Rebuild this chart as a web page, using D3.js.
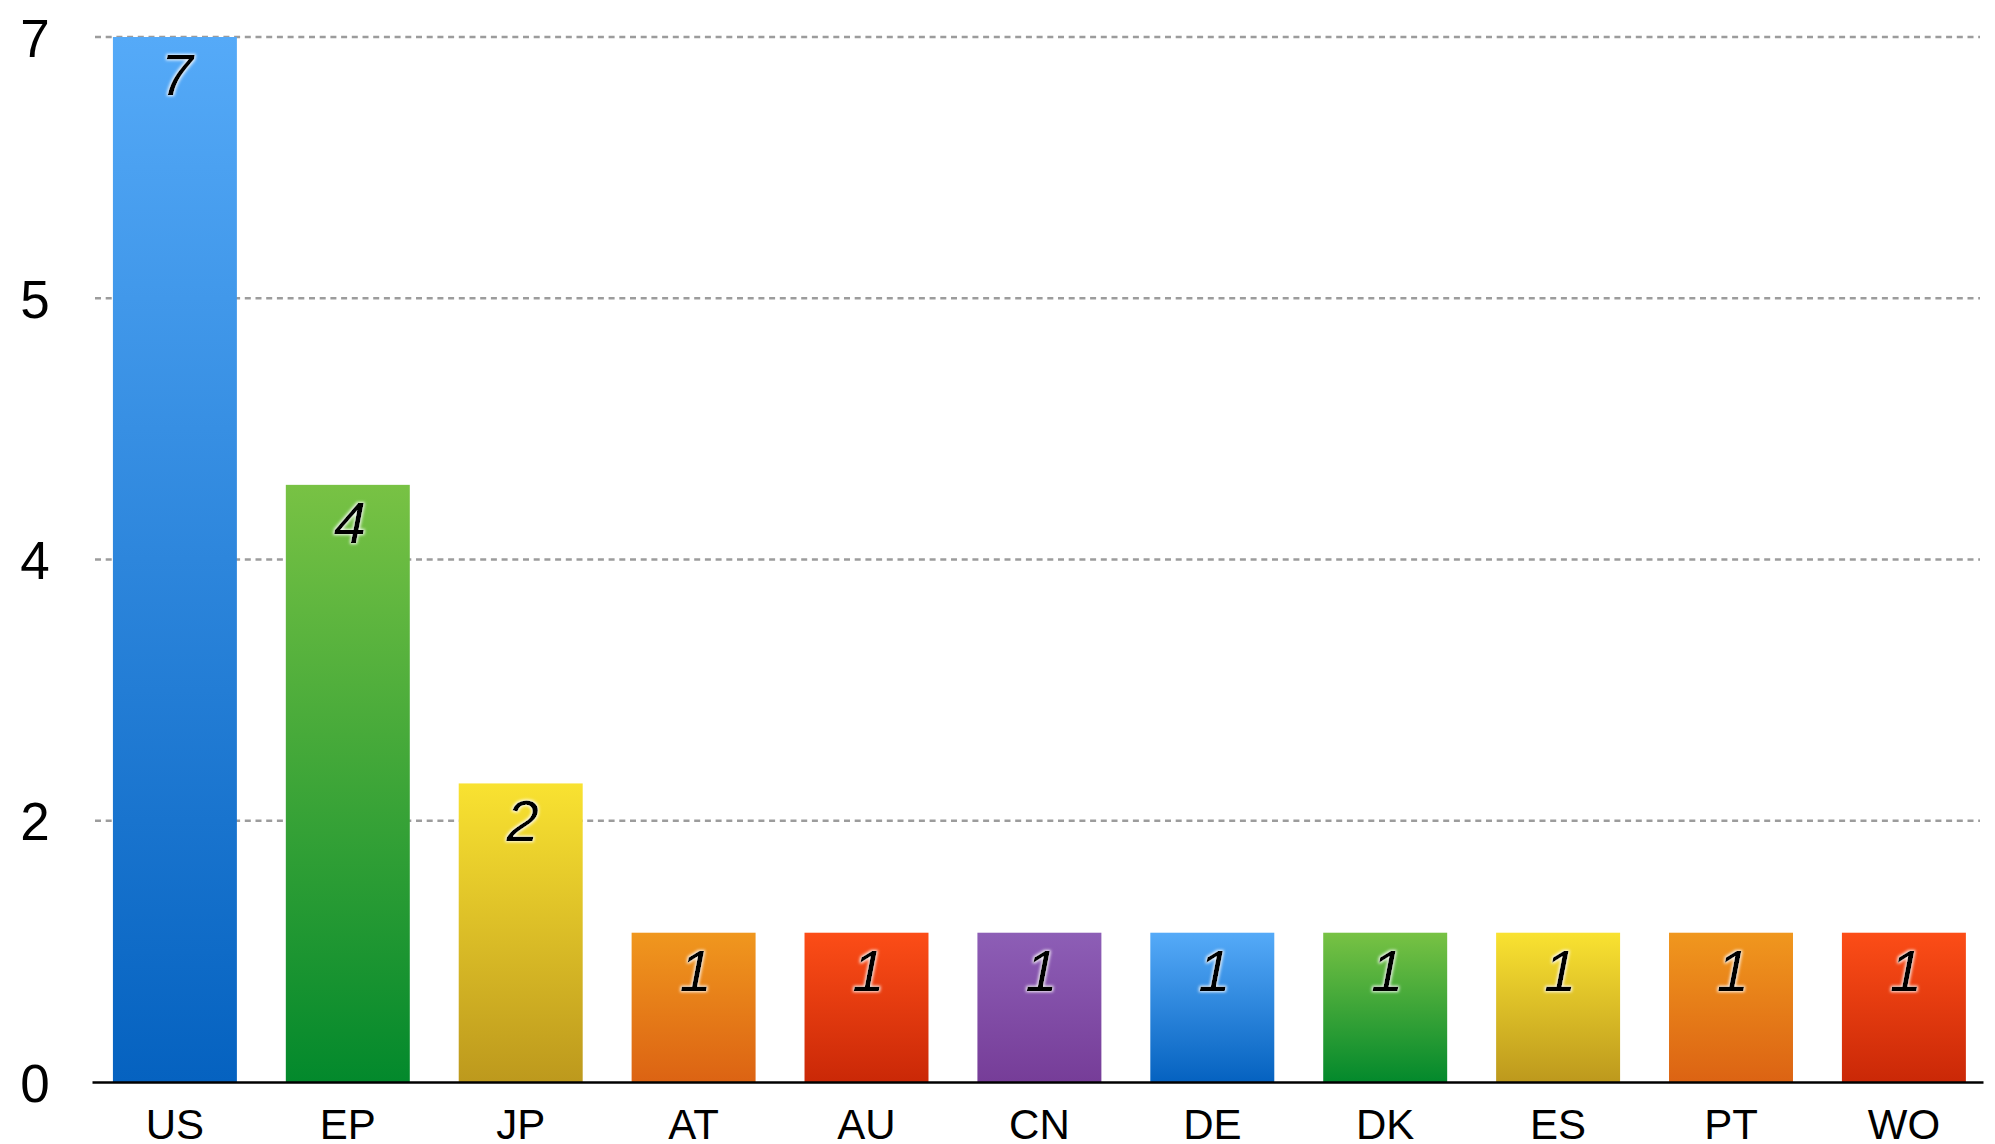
<!DOCTYPE html>
<html>
<head>
<meta charset="utf-8">
<script src="https://cdn.jsdelivr.net/npm/d3@7"></script>
<style>
  html, body { margin: 0; padding: 0; background: #fff; }
  svg { display: block; font-family: "Liberation Sans", Arial, sans-serif; }
</style>
</head>
<body>
<script>
// chart data
const offices = ["US", "EP", "JP", "AT", "AU", "CN", "DE", "DK", "ES", "PT", "WO"];
const counts = [7, 4, 2, 1, 1, 1, 1, 1, 1, 1, 1];
const yTicks = [0, 1.75, 3.5, 5.25, 7];
const yTickLabels = ["0", "2", "4", "5", "7"];
// top / bottom of each bar gradient, cycling
const topColors = ["#55aaf8", "#78c244", "#f9e231", "#f0971e", "#fc4d17", "#8d5eb6"];
const bottomColors = ["#0562c0", "#03892c", "#bd991d", "#dc6313", "#ca2807", "#763d98"];

const w = 1995, h = 1144;

let svg = d3.select("body")
  .append("svg")
  .attr("width", w)
  .attr("height", h)
  .attr("viewBox", [0, 0, w, h]);

let defs = svg.append("defs");
topColors.forEach((c, i) => {
  let g = defs.append("linearGradient")
    .attr("id", "grad" + i)
    .attr("x1", 0).attr("y1", 0)
    .attr("x2", 0).attr("y2", 1);
  g.append("stop").attr("offset", "0%").attr("stop-color", c);
  g.append("stop").attr("offset", "100%").attr("stop-color", bottomColors[i]);
});

// soft white halo behind the value labels
let glow = defs.append("filter")
  .attr("id", "glow")
  .attr("x", "-30%").attr("y", "-30%")
  .attr("width", "160%").attr("height", "160%");
glow.append("feMorphology")
  .attr("in", "SourceAlpha").attr("operator", "dilate").attr("radius", 1)
  .attr("result", "fat");
glow.append("feGaussianBlur")
  .attr("in", "fat").attr("stdDeviation", 1.6).attr("result", "blur");
glow.append("feFlood").attr("flood-color", "#fff").attr("flood-opacity", 0.9);
glow.append("feComposite").attr("in2", "blur").attr("operator", "in").attr("result", "halo");
let merge = glow.append("feMerge");
merge.append("feMergeNode").attr("in", "halo");
merge.append("feMergeNode").attr("in", "SourceGraphic");

let x = d3.scaleBand()
  .domain(offices)
  .range([92, 1983])
  .paddingInner(0.283)
  .paddingOuter(0.11)
  .align(0.55);

let y = d3.scaleLinear()
  .domain([0, 7])
  .range([1082, 37]);

// dashed grid
svg.append("g")
  .selectAll("line")
  .data(yTicks.filter(d => d > 0))
  .join("line")
  .attr("x1", 95)
  .attr("x2", 1980)
  .attr("y1", d => y(d))
  .attr("y2", d => y(d))
  .attr("stroke", "#9c9c9c")
  .attr("stroke-width", 2.4)
  .attr("stroke-dasharray", "6,4.7");

// bars
svg.append("g")
  .selectAll("rect")
  .data(offices)
  .join("rect")
  .attr("x", d => x(d))
  .attr("width", x.bandwidth())
  .attr("y", (d, i) => y(counts[i]))
  .attr("height", (d, i) => y(0) - y(counts[i]))
  .attr("fill", (d, i) => `url(#grad${i % topColors.length})`);

// value labels
svg.append("g")
  .selectAll("text")
  .data(offices)
  .join("text")
  .attr("x", d => x(d) + x.bandwidth() / 2 + 2)
  .attr("y", (d, i) => y(counts[i]) + 58)
  .attr("text-anchor", "middle")
  .attr("font-size", 58)
  .attr("font-style", "italic")
  .attr("fill", "#000")
  .attr("filter", "url(#glow)")
  .text((d, i) => counts[i]);

// x axis
let xAxis = svg.append("g")
  .attr("transform", `translate(0,${y(0)})`)
  .call(d3.axisBottom(x).tickSize(0).tickSizeOuter(0));
xAxis.select(".domain")
  .attr("stroke", "#000")
  .attr("stroke-width", 2.6);
xAxis.selectAll("text")
  .attr("y", 57)
  .attr("dy", 0)
  .attr("font-size", 42)
  .attr("font-family", "Liberation Sans, Arial, sans-serif")
  .attr("fill", "#000");

// y axis
let yAxis = svg.append("g")
  .attr("transform", "translate(35,0)")
  .call(d3.axisLeft(y)
    .tickValues(yTicks)
    .tickFormat((d, i) => yTickLabels[i])
    .tickSize(0));
yAxis.select(".domain").remove();
yAxis.selectAll("text")
  .attr("x", 0)
  .attr("dy", 19)
  .attr("text-anchor", "middle")
  .attr("font-size", 53)
  .attr("font-family", "Liberation Sans, Arial, sans-serif")
  .attr("fill", "#000");
</script>
</body>
</html>
